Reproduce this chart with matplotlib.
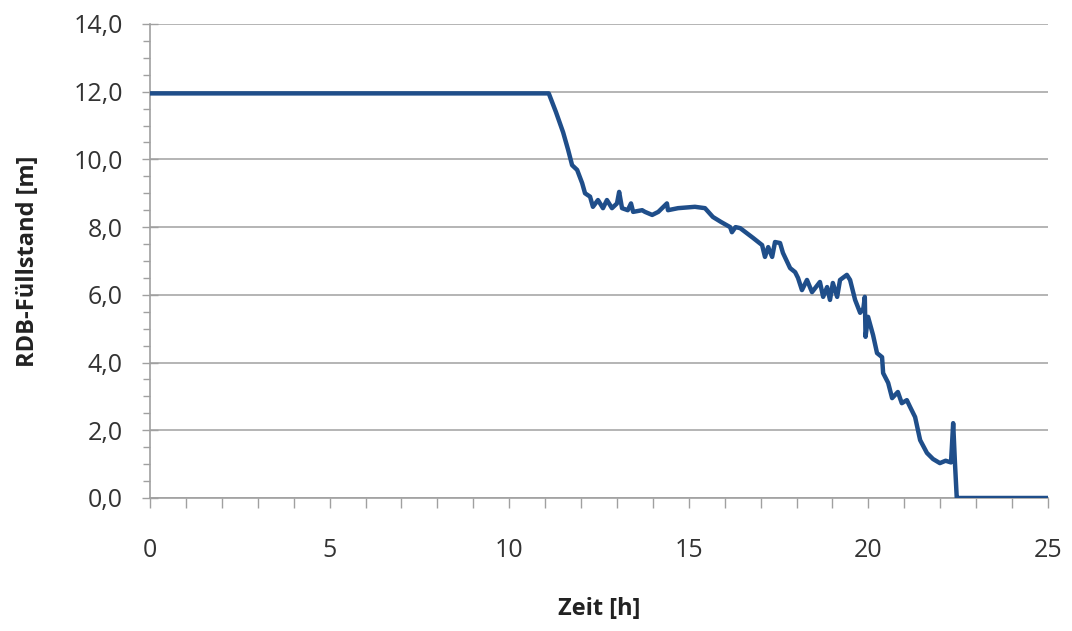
import matplotlib
matplotlib.use("Agg")
import matplotlib.pyplot as plt
from matplotlib.ticker import MultipleLocator, FuncFormatter

# Data
zeit_h = [0.0, 11.1, 11.3, 11.5, 11.64, 11.75, 11.89, 12.03, 12.11, 12.25, 12.33, 12.47, 12.61,
          12.72, 12.86, 13.0, 13.06, 13.14, 13.3, 13.39, 13.45, 13.7, 13.78, 13.98, 14.15,
          14.39, 14.42, 14.7, 15.17, 15.45, 15.67, 15.9, 16.15, 16.2, 16.3, 16.43, 16.79,
          17.04, 17.12, 17.21, 17.32, 17.4, 17.54, 17.62, 17.82, 17.96, 18.04, 18.15, 18.29,
          18.43, 18.65, 18.74, 18.85, 18.93, 19.01, 19.13, 19.21, 19.4, 19.49, 19.63, 19.77,
          19.86, 19.9, 19.92, 19.99, 20.13, 20.24, 20.38, 20.41, 20.55, 20.66, 20.82, 20.93,
          21.07, 21.16, 21.3, 21.44, 21.63, 21.8, 21.99, 22.15, 22.3, 22.36, 22.41, 22.46,
          22.5, 25.0]
fuellstand_m = [11.95, 11.95, 11.4, 10.8, 10.28, 9.83, 9.69, 9.3, 9.0, 8.9, 8.6, 8.8, 8.56,
                8.8, 8.56, 8.7, 9.04, 8.56, 8.5, 8.7, 8.45, 8.5, 8.45, 8.36, 8.45,
                8.7, 8.5, 8.56, 8.6, 8.56, 8.3, 8.15, 8.0, 7.85, 8.0, 7.97, 7.68,
                7.47, 7.12, 7.41, 7.12, 7.56, 7.53, 7.24, 6.79, 6.67, 6.5, 6.14, 6.44,
                6.08, 6.38, 5.94, 6.23, 5.85, 6.35, 5.94, 6.44, 6.59, 6.44, 5.85, 5.47,
                5.6, 5.94, 4.76, 5.35, 4.81, 4.28, 4.16, 3.69, 3.4, 2.95, 3.13, 2.8,
                2.89, 2.69, 2.39, 1.71, 1.33, 1.15, 1.03, 1.1, 1.05, 2.21, 1.03, 0.0,
                0.0, 0.0]

x_label = "Zeit [h]"
y_label = "RDB-Füllstand [m]"

plt.rcParams['font.family'] = ['Open Sans', 'DejaVu Sans']

fig = plt.figure(figsize=(10.72, 6.31), dpi=100)
ax = fig.add_axes([0.14, 0.2108, 0.8376, 0.7512])

ax.plot(zeit_h, fuellstand_m, color='#1f4e8a', linewidth=3.2, solid_joinstyle='round', zorder=3)

ax.set_xlim(0, 25)
ax.set_ylim(0, 14)
ax.xaxis.set_major_locator(MultipleLocator(5))
ax.xaxis.set_minor_locator(MultipleLocator(1))
ax.yaxis.set_major_locator(MultipleLocator(2))
ax.yaxis.set_minor_locator(MultipleLocator(0.5))
ax.yaxis.set_major_formatter(FuncFormatter(lambda v, p: f"{v:.1f}".replace('.', ',')))

ax.grid(axis='y', which='major', color='#b4b4b4', linewidth=1.4, zorder=1)
ax.set_axisbelow(True)

for s in ['top', 'right']:
    ax.spines[s].set_visible(False)
for s in ['left', 'bottom']:
    ax.spines[s].set_color('#a0a0a0')
    ax.spines[s].set_linewidth(1.2)

ax.tick_params(axis='y', which='major', direction='inout', length=11, width=1, color='#a0a0a0',
               labelsize=18, labelcolor='#333333', pad=14)
ax.tick_params(axis='y', which='minor', direction='out', length=5, width=1, color='#a0a0a0')
ax.tick_params(axis='x', which='both', direction='out', length=7, width=1, color='#a0a0a0',
               labelsize=18, labelcolor='#333333', pad=22)

ax.set_xlabel(x_label, fontsize=17, fontweight='bold', labelpad=24, color='#222222')
ax.set_ylabel(y_label, fontsize=17, fontweight='bold', labelpad=24, color='#222222')

fig.savefig("out.png", dpi=100, facecolor='white')
